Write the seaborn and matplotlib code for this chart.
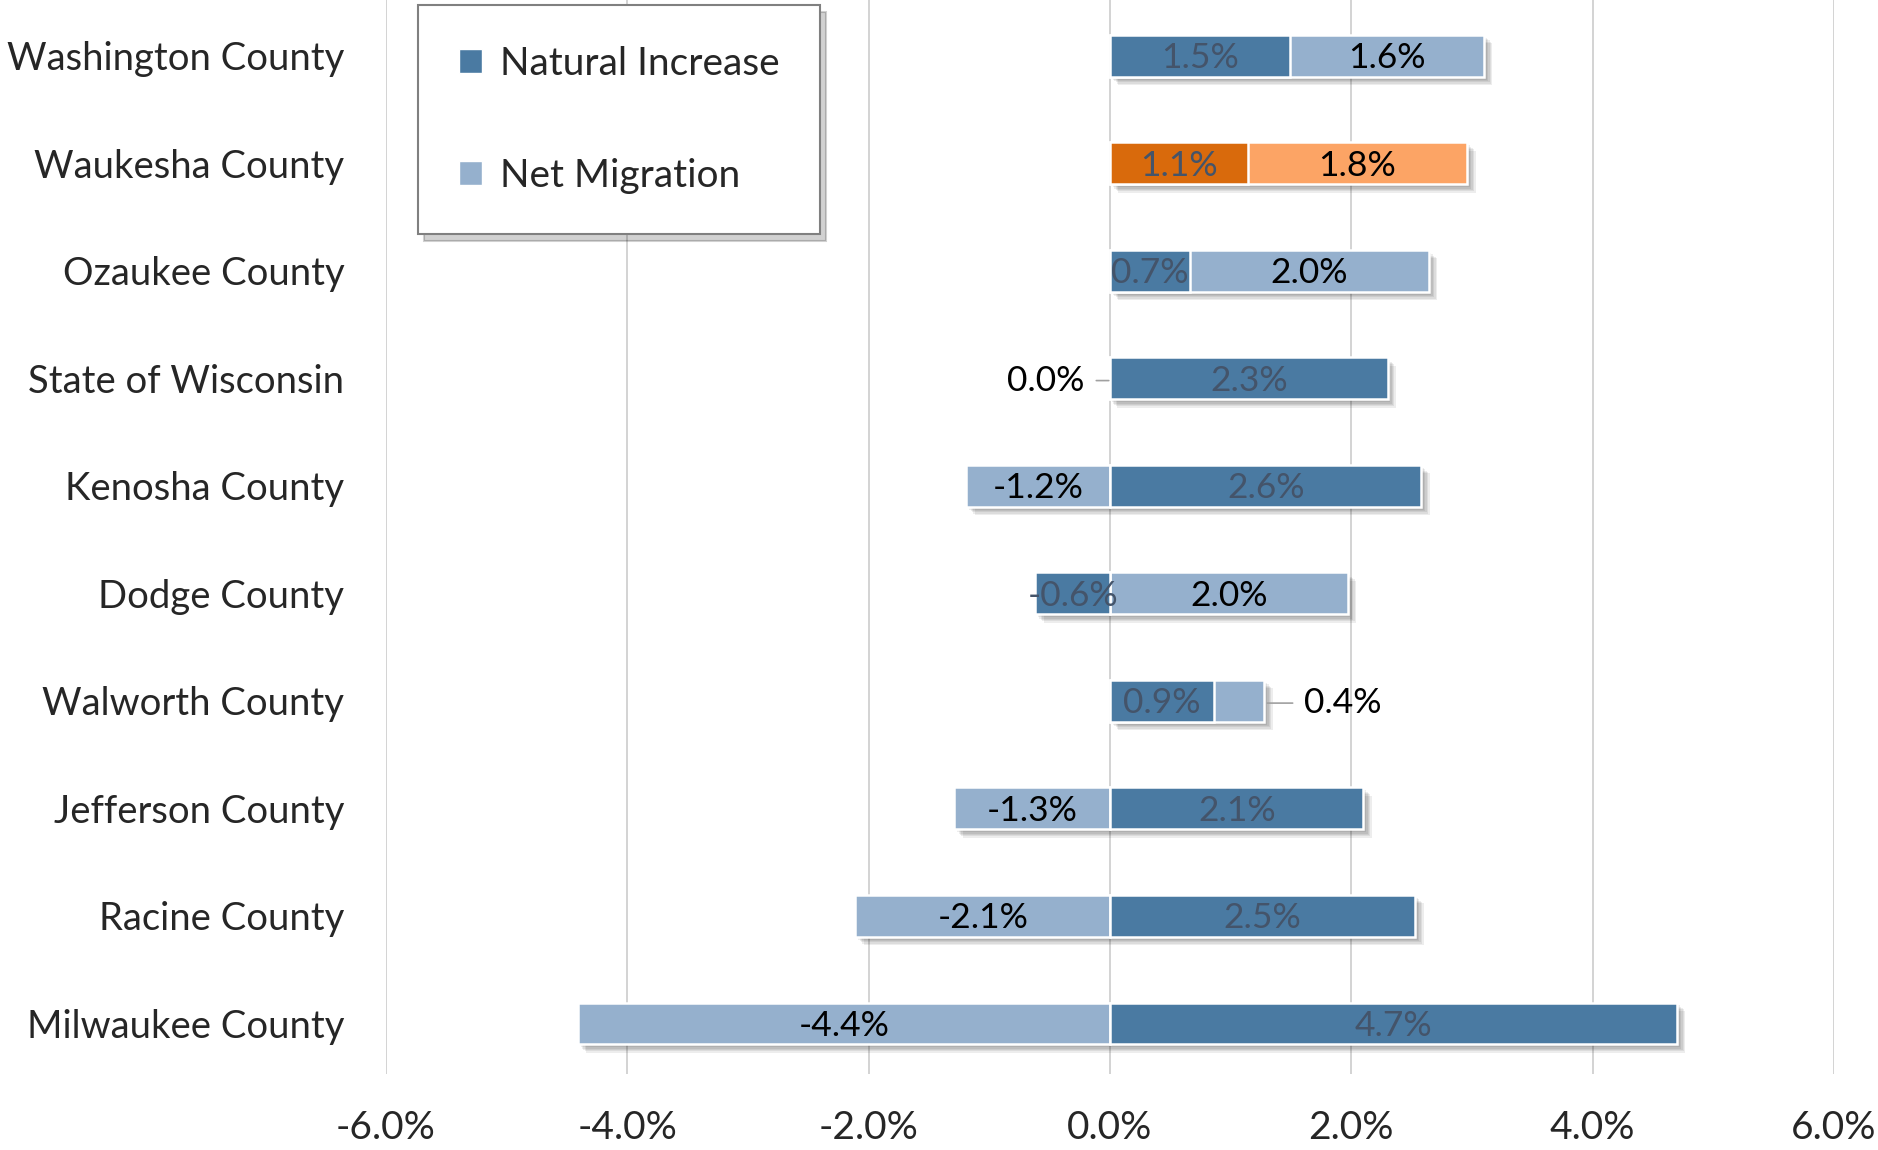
import numpy as np
import pandas as pd
import seaborn as sns
import matplotlib.pyplot as plt
import matplotlib.patheffects as pe
from matplotlib.patches import Patch
from matplotlib.ticker import FuncFormatter

# data (percent)
counties = ["Washington County", "Waukesha County", "Ozaukee County", "State of Wisconsin",
            "Kenosha County", "Dodge County", "Walworth County", "Jefferson County",
            "Racine County", "Milwaukee County"]
natural = [1.49, 1.14, 0.66, 2.30, 2.58, -0.62, 0.86, 2.10, 2.53, 4.70]
migration = [1.61, 1.82, 1.98, -0.01, -1.19, 1.97, 0.42, -1.29, -2.11, -4.41]
highlight = "Waukesha County"
xticks = [-6, -4, -2, 0, 2, 4, 6]

DARK = "#4A7AA2"
LIGHT = "#95B0CD"
DARK_HI = "#D96A0C"
LIGHT_HI = "#FCA465"
NI_TEXT = "#44546A"

sns.set_style("white")
plt.rcParams["font.family"] = ["Lato", "DejaVu Sans"]

df = pd.DataFrame({"county": counties, "natural": natural, "migration": migration})
# end points for layered drawing: migration stacks after natural when same sign
df["mig_end"] = np.where(np.sign(df["natural"]) == np.sign(df["migration"]),
                         df["natural"] + df["migration"], df["migration"])
df["pos_total"] = df[["natural", "migration"]].clip(lower=0).sum(axis=1)
df["neg_total"] = df[["natural", "migration"]].clip(upper=0).sum(axis=1)

dark_pal = {c: (DARK_HI if c == highlight else DARK) for c in counties}
light_pal = {c: (LIGHT_HI if c == highlight else LIGHT) for c in counties}

fig = plt.figure(figsize=(18.78, 11.5), dpi=100)
ax = fig.add_axes([386 / 1878, 1 - 1074 / 1150, (1834 - 386) / 1878, 1074 / 1150])

bw = 0.39
common = dict(y="county", orient="h", width=bw, dodge=False, legend=False, ax=ax,
              order=counties, saturation=1)

# soft shadow layer under the bars (stacked offsets to fake a blur)
shadow = [pe.SimplePatchShadow(offset=(o, -o), shadow_rgbFace="black", alpha=0.07)
          for o in (2, 3, 4, 5, 6)] + [pe.Normal()]
for col in ["pos_total", "neg_total"]:
    sns.barplot(data=df, x=col, hue="county", palette=light_pal, linewidth=0, **common)
for p in ax.patches:
    p.set_path_effects(shadow)

sns.barplot(data=df, x="mig_end", hue="county", palette=light_pal,
            edgecolor="white", linewidth=1.8, **common)
sns.barplot(data=df, x="natural", hue="county", palette=dark_pal,
            edgecolor="white", linewidth=1.8, **common)

def fmt(v):
    return f"{round(v, 1) + 0.0:.1f}%"

lab_size = 25.5
dy = 0.02
leader = dict(arrowstyle="-", color="#A0A0A0", lw=1.2)
for i, row in df.iterrows():
    ni, nm, me = row["natural"], row["migration"], row["mig_end"]
    ax.text(ni / 2, i + dy, fmt(ni), ha="center", va="center", fontsize=lab_size, color=NI_TEXT)
    if abs(nm) < 0.5:
        # small values sit outside the bar with a leader line
        if nm <= 0:
            ax.annotate(fmt(nm), xy=(me, i + dy), xytext=(me - 0.2, i + dy), ha="right",
                        va="center", fontsize=lab_size, color="black",
                        arrowprops=dict(**leader, shrinkA=6, shrinkB=0))
        else:
            ax.annotate(fmt(nm), xy=(me, i + dy), xytext=(me + 0.33, i + dy), ha="left",
                        va="center", fontsize=lab_size, color="black",
                        arrowprops=dict(**leader, shrinkA=6, shrinkB=2))
        continue
    start = me - nm
    ax.text(start + nm / 2, i + dy, fmt(nm), ha="center", va="center", fontsize=lab_size,
            color="black")

ax.set_xlim(-6, 6)
ax.set_ylim(9.47, -0.52)
ax.set_xticks(xticks)
ax.xaxis.set_major_formatter(FuncFormatter(lambda v, _: f"{v:.1f}%"))
ax.grid(axis="x", color="#D0D0D0", linewidth=1.3)
ax.set_axisbelow(True)
for s in ax.spines.values():
    s.set_visible(False)
ax.tick_params(axis="y", length=0, pad=30, labelsize=27.5)
ax.tick_params(axis="x", length=0, pad=26, labelsize=28)
ax.set_xlabel("")
ax.set_ylabel("")

handles = [Patch(facecolor=DARK, label="Natural Increase"),
           Patch(facecolor=LIGHT, label="Net Migration")]
leg = fig.legend(handles=handles, loc="upper left", bbox_to_anchor=(418 / 1878, 1 - 5 / 1150),
                 bbox_transform=fig.transFigure, fontsize=28, frameon=True, fancybox=False,
                 shadow={"color": "black", "alpha": 0.18, "ox": 4, "oy": -5},
                 edgecolor="#808080", borderaxespad=0, borderpad=1.05, labelspacing=1.95,
                 handlelength=0.6, handleheight=0.6, handletextpad=0.45)
leg.get_frame().set_linewidth(1.5)

fig.savefig("out.png", dpi=100)
